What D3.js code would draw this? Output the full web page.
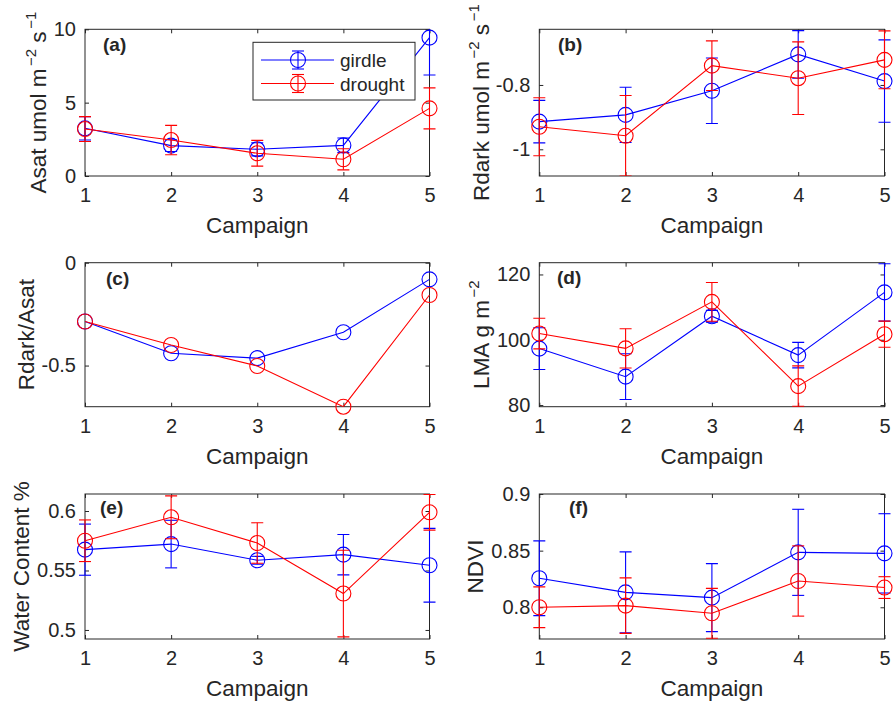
<!DOCTYPE html>
<html>
<head>
<meta charset="utf-8">
<script src="https://cdn.jsdelivr.net/npm/d3@7"></script>
<style>
  html, body { margin: 0; padding: 0; background: #fff; }
  svg { display: block; }
  text { font-family: "Liberation Sans", Arial, Helvetica, sans-serif; fill: #262626; }
</style>
</head>
<body>
<svg id="chart" width="893" height="703"></svg>
<script>
// ---------- data ----------
const campaigns = [1, 2, 3, 4, 5];
const seriesNames = ["girdle", "drought"];
const seriesColors = ["#0000ff", "#ff0000"];

const asatGirdle = [3.25, 2.07, 1.82, 2.09, 9.43];
const asatGirdleErr = [0.8, 0.4, 0.45, 0.5, 2.55];
const asatDrought = [3.2, 2.45, 1.55, 1.14, 4.61];
const asatDroughtErr = [0.85, 1.0, 0.88, 0.72, 1.4];

const rdarkGirdle = [-0.914, -0.893, -0.818, -0.705, -0.788];
const rdarkGirdleErr = [0.066, 0.086, 0.102, 0.074, 0.128];
const rdarkDrought = [-0.930, -0.958, -0.740, -0.779, -0.722];
const rdarkDroughtErr = [0.09, 0.125, 0.077, 0.113, 0.09];

const ratioGirdle = [-0.286, -0.440, -0.464, -0.338, -0.081];
const ratioDrought = [-0.286, -0.400, -0.502, -0.700, -0.157];

const lmaGirdle = [97.3, 88.7, 107.2, 95.3, 114.5];
const lmaGirdleErr = [6.4, 7.0, 1.8, 3.9, 8.8];
const lmaDrought = [101.9, 97.35, 111.6, 85.8, 101.7];
const lmaDroughtErr = [4.7, 6.0, 5.95, 6.2, 4.0];

const wcGirdle = [0.5675, 0.5722, 0.5586, 0.5633, 0.5544];
const wcGirdleErr = [0.0215, 0.020, 0.0033, 0.017, 0.031];
const wcDrought = [0.575, 0.5947, 0.5731, 0.5306, 0.5989];
const wcDroughtErr = [0.0175, 0.018, 0.017, 0.0364, 0.015];

const ndviGirdle = [0.8256, 0.8132, 0.8085, 0.8485, 0.8476];
const ndviGirdleErr = [0.033, 0.0357, 0.030, 0.038, 0.035];
const ndviDrought = [0.800, 0.8015, 0.7947, 0.8232, 0.8174];
const ndviDroughtErr = [0.018, 0.0245, 0.022, 0.031, 0.0096];

const asatTicks = [0, 5, 10];
const rdarkTicks = [-1, -0.8];
const ratioTicks = [-0.5, 0];
const lmaTicks = [80, 100, 120];
const wcTicks = [0.5, 0.55, 0.6];
const ndviTicks = [0.8, 0.85, 0.9];

// ---------- layout ----------
const svg = d3.select("#chart");
const colL = [85, 539.3], colR = [429.5, 884.5];
const rowT = [29.3, 262.7, 494], rowB = [176, 406.7, 639];

const panels = [
  { tag: "(a)", col: 0, row: 0, domain: [0, 10], ticks: asatTicks,
    series: [[asatGirdle, asatGirdleErr], [asatDrought, asatDroughtErr]],
    label: [["Asat umol m", 0], ["\u22122", 1], [" s", 0], ["\u22121", 1]], labelX: 46, tagPos: [103, 51], legend: true },
  { tag: "(b)", col: 1, row: 0, domain: [-1.083, -0.627], ticks: rdarkTicks,
    series: [[rdarkGirdle, rdarkGirdleErr], [rdarkDrought, rdarkDroughtErr]],
    label: [["Rdark umol m", 0], ["\u22122", 1], [" s", 0], ["\u22121", 1]], labelX: 489, tagPos: [558, 51] },
  { tag: "(c)", col: 0, row: 1, domain: [-0.7, 0], ticks: ratioTicks,
    series: [[ratioGirdle, null], [ratioDrought, null]],
    label: [["Rdark/Asat", 0]], labelX: 34, tagPos: [106, 285] },
  { tag: "(d)", col: 1, row: 1, domain: [79.5, 123.6], ticks: lmaTicks,
    series: [[lmaGirdle, lmaGirdleErr], [lmaDrought, lmaDroughtErr]],
    label: [["LMA g m", 0], ["\u22122", 1]], labelX: 489, tagPos: [557, 284] },
  { tag: "(e)", col: 0, row: 2, domain: [0.4924, 0.6143], ticks: wcTicks,
    series: [[wcGirdle, wcGirdleErr], [wcDrought, wcDroughtErr]],
    label: [["Water Content %", 0]], labelX: 29, tagPos: [100, 514] },
  { tag: "(f)", col: 1, row: 2, domain: [0.772, 0.9], ticks: ndviTicks,
    series: [[ndviGirdle, ndviGirdleErr], [ndviDrought, ndviDroughtErr]],
    label: [["NDVI", 0]], labelX: 483, tagPos: [569, 514] }
];

const axisColor = "#262626";
const tickLen = 4;
const capHalf = 6;
const markerR = 7.5;
const fmt = v => String(+v.toFixed(3));

panels.forEach((p, i) => {
  const L = colL[p.col], R = colR[p.col], T = rowT[p.row], B = rowB[p.row];
  const x = d3.scaleLinear().domain([1, 5]).range([L, R]);
  const y = d3.scaleLinear().domain(p.domain).range([B, T]);
  const g = svg.append("g");

  const clipId = "clip" + i;
  svg.append("clipPath").attr("id", clipId).append("rect")
    .attr("x", L - 20).attr("y", T).attr("width", R - L + 40).attr("height", B - T);

  const xb = g.append("g").attr("transform", `translate(0,${B})`)
    .call(d3.axisBottom(x).tickValues(campaigns).tickSize(-tickLen).tickPadding(12).tickFormat(d3.format("d")));
  const xt = g.append("g").attr("transform", `translate(0,${T})`)
    .call(d3.axisTop(x).tickValues(campaigns).tickSize(-tickLen).tickFormat(""));
  const yl = g.append("g").attr("transform", `translate(${L},0)`)
    .call(d3.axisLeft(y).tickValues(p.ticks).tickSize(-tickLen).tickPadding(9).tickFormat(fmt));
  const yr = g.append("g").attr("transform", `translate(${R},0)`)
    .call(d3.axisRight(y).tickValues(p.ticks).tickSize(-tickLen).tickFormat(""));
  [xb, xt, yl, yr].forEach(a => {
    a.select(".domain").remove();
    a.selectAll(".tick line").attr("stroke", axisColor).attr("stroke-width", 1);
    a.selectAll(".tick text").attr("font-size", 20).attr("fill", axisColor)
      .style("font-family", '"Liberation Sans", Arial, sans-serif');
  });
  xb.selectAll(".tick text").attr("dy", "0.71em");
  g.append("rect").attr("x", L).attr("y", T).attr("width", R - L).attr("height", B - T)
    .attr("fill", "none").attr("stroke", axisColor).attr("stroke-width", 1);

  g.append("text").attr("x", (L + R) / 2).attr("y", B + 57)
    .attr("text-anchor", "middle").attr("font-size", 22.5).text("Campaign");

  const yt = g.append("text")
    .attr("transform", `translate(${p.labelX},${(T + B) / 2}) rotate(-90)`)
    .attr("text-anchor", "middle").attr("font-size", 22.5);
  let raised = 0;
  p.label.forEach(([txt, sup]) => {
    const ts = yt.append("tspan").text(txt);
    if (sup) {
      ts.attr("font-size", 15).attr("dx", 2.5);
      if (!raised) { ts.attr("dy", -10); raised = 1; }
    } else if (raised) { ts.attr("dy", 10); raised = 0; }
  });

  g.append("text").attr("x", p.tagPos[0]).attr("y", p.tagPos[1])
    .attr("font-size", 19).attr("font-weight", "bold").attr("fill", "#000").text(p.tag);

  p.series.forEach(([vals, errs], s) => {
    const color = seriesColors[s];
    const sg = g.append("g");
    const cg = sg.append("g").attr("clip-path", `url(#${clipId})`);
    const line = d3.line().x((d, k) => x(campaigns[k])).y(d => y(d));
    cg.append("path").datum(vals).attr("d", line)
      .attr("fill", "none").attr("stroke", color).attr("stroke-width", 1.1);
    if (errs) {
      campaigns.forEach((c, k) => {
        const lo = vals[k] - errs[k], hi = vals[k] + errs[k];
        const xc = x(c);
        cg.append("line").attr("x1", xc).attr("x2", xc).attr("y1", y(lo)).attr("y2", y(hi))
          .attr("stroke", color).attr("stroke-width", 1.1);
        [lo, hi].forEach(v => {
          cg.append("line").attr("x1", xc - capHalf).attr("x2", xc + capHalf)
            .attr("y1", y(v)).attr("y2", y(v)).attr("stroke", color).attr("stroke-width", 1.1);
        });
      });
    }
    sg.selectAll("circle").data(vals).join("circle")
      .attr("cx", (d, k) => x(campaigns[k])).attr("cy", d => y(d)).attr("r", markerR)
      .attr("fill", "none").attr("stroke", color).attr("stroke-width", 1.1);
  });

  if (p.legend) {
    const lg = g.append("g");
    lg.append("rect").attr("x", 253).attr("y", 42.3).attr("width", 162).attr("height", 57.7)
      .attr("fill", "#fff").attr("stroke", axisColor).attr("stroke-width", 1);
    seriesNames.forEach((name, s) => {
      const ly = 60 + s * 23.5;
      const color = seriesColors[s];
      lg.append("line").attr("x1", 261).attr("x2", 334).attr("y1", ly).attr("y2", ly)
        .attr("stroke", color).attr("stroke-width", 1.1);
      lg.append("line").attr("x1", 298).attr("x2", 298).attr("y1", ly - 9).attr("y2", ly + 9)
        .attr("stroke", color).attr("stroke-width", 1.1);
      [ly - 9, ly + 9].forEach(v => lg.append("line").attr("x1", 292).attr("x2", 304)
        .attr("y1", v).attr("y2", v).attr("stroke", color).attr("stroke-width", 1.1));
      lg.append("circle").attr("cx", 298).attr("cy", ly).attr("r", markerR)
        .attr("fill", "none").attr("stroke", color).attr("stroke-width", 1.1);
      lg.append("text").attr("x", 340).attr("y", ly + 7).attr("font-size", 19)
        .attr("fill", "#000").text(name);
    });
  }
});
</script>
</body>
</html>
